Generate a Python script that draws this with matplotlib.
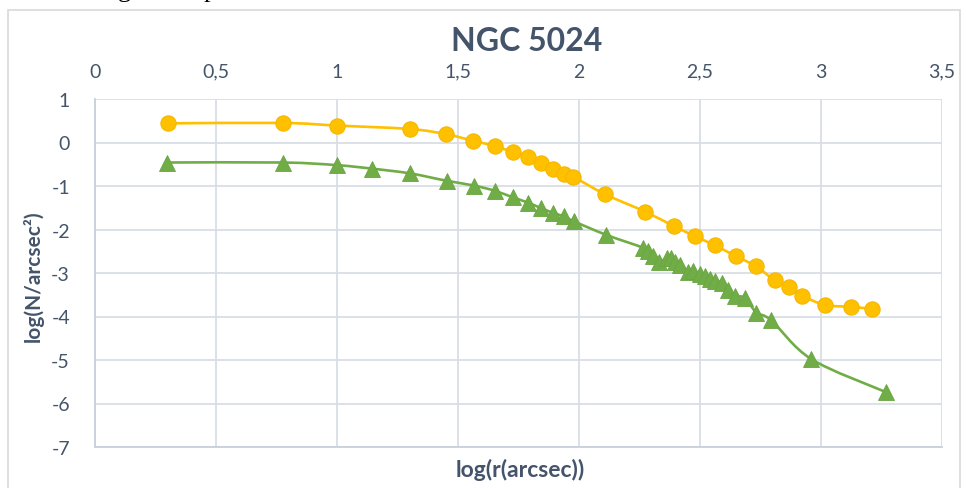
import numpy as np
from matplotlib import pyplot as plt
from matplotlib.path import Path
import matplotlib.patches as mpatches

# log(r) and log(N/arcsec^2)
x_yellow = [0.30, 0.775, 0.998, 1.302, 1.452, 1.562, 1.651, 1.726, 1.790, 1.844,
            1.891, 1.937, 1.976, 2.108, 2.273, 2.391, 2.481, 2.560, 2.647, 2.733,
            2.808, 2.868, 2.921, 3.015, 3.125, 3.211]
y_yellow = [0.44, 0.45, 0.39, 0.31, 0.19, 0.04, -0.08, -0.22, -0.34, -0.47,
            -0.61, -0.73, -0.79, -1.19, -1.59, -1.92, -2.16, -2.36, -2.61, -2.85,
            -3.17, -3.33, -3.52, -3.73, -3.78, -3.82]

x_green = [0.298, 0.776, 0.998, 1.143, 1.302, 1.453, 1.566, 1.652, 1.726, 1.788,
           1.844, 1.894, 1.937, 1.978, 2.111, 2.266, 2.287, 2.305, 2.330, 2.362,
           2.379, 2.397, 2.417, 2.449, 2.472, 2.500, 2.520, 2.541, 2.564, 2.589,
           2.614, 2.644, 2.685, 2.733, 2.795, 2.960, 3.269]
y_green = [-0.46, -0.46, -0.52, -0.60, -0.71, -0.88, -0.99, -1.11, -1.26, -1.38,
           -1.51, -1.62, -1.70, -1.81, -2.12, -2.42, -2.50, -2.60, -2.75, -2.66,
           -2.66, -2.74, -2.81, -2.97, -2.96, -3.03, -3.08, -3.13, -3.19, -3.22,
           -3.38, -3.53, -3.57, -3.91, -4.09, -4.98, -5.74]

x_ticks = [0, 0.5, 1, 1.5, 2, 2.5, 3, 3.5]
x_tick_labels = ['0', '0,5', '1', '1,5', '2', '2,5', '3', '3,5']
y_ticks = [1, 0, -1, -2, -3, -4, -5, -6, -7]

text_col = '#44546A'
grid_col = '#D9DEE5'
plt.rcParams['font.family'] = ['Lato', 'DejaVu Sans']
plt.rcParams['axes.unicode_minus'] = False


def smooth_path(xs, ys):
    # Excel style smoothed line: cubic Bezier through every point
    p = np.column_stack([xs, ys])
    q = np.vstack([p[:1], p, p[-1:]])
    verts = [p[0]]
    codes = [Path.MOVETO]
    for i in range(len(p) - 1):
        c1 = q[i + 1] + (q[i + 2] - q[i]) / 6
        c2 = q[i + 2] - (q[i + 3] - q[i + 1]) / 6
        verts += [c1, c2, p[i + 1]]
        codes += [Path.CURVE4] * 3
    return Path(verts, codes)


fig = plt.figure(figsize=(9.66, 4.89), dpi=100)
ax = fig.add_axes([95 / 966, 1 - 448 / 489, 847 / 966, 348 / 489])

# outer chart border
fig.patches.append(mpatches.Rectangle((8 / 966, -0.05), 952 / 966, 1.05 - 11 / 489,
                                      transform=fig.transFigure, fill=False,
                                      edgecolor='#D9D9D9', linewidth=1.2))

# bits of the document text above the chart, only the descenders show
fig.text(118 / 966, 1 + 3 / 489, 'g', family='Liberation Serif', fontsize=19,
         va='baseline', ha='left', color='black')
fig.text(204 / 966, 1 + 3 / 489, 'p', family='Liberation Serif', fontsize=19,
         va='baseline', ha='left', color='black')

ax.add_patch(mpatches.PathPatch(smooth_path(x_yellow, y_yellow), fill=False,
                                edgecolor='#FFC000', linewidth=1.9, zorder=3))
ax.plot(x_yellow, y_yellow, linestyle='none', marker='o', markersize=11,
        color='#FFC000', markeredgecolor='#F5B800', markeredgewidth=0.8, zorder=4)

ax.add_patch(mpatches.PathPatch(smooth_path(x_green, y_green), fill=False,
                                edgecolor='#70AD47', linewidth=1.9, zorder=3))
ax.plot(x_green, y_green, linestyle='none', marker='^', markersize=11,
        color='#70AD47', markeredgecolor='#6AA542', markeredgewidth=0.6, zorder=4)

ax.set_xlim(0, 3.5)
ax.set_ylim(-7, 1)
ax.xaxis.tick_top()
ax.set_xticks(x_ticks)
ax.set_xticklabels(x_tick_labels)
ax.set_yticks(y_ticks)
ax.tick_params(axis='both', length=0, labelsize=14, colors=text_col)
ax.tick_params(axis='x', pad=14)
ax.tick_params(axis='y', pad=18)
ax.grid(True, color=grid_col, linewidth=1.3)
ax.set_axisbelow(True)
for s in ['top', 'right']:
    ax.spines[s].set_visible(False)
for s in ['left', 'bottom']:
    ax.spines[s].set_color('#C9D0DA')
    ax.spines[s].set_linewidth(1.3)

fig.text(527 / 966, 1 - 42 / 489, 'NGC 5024', ha='center', va='center',
         fontsize=23, fontweight='bold', color=text_col)
fig.text(520 / 966, 1 - 470 / 489, 'log(r(arcsec))', ha='center', va='center',
         fontsize=16.5, fontweight='bold', color=text_col)
fig.text(33 / 966, 1 - 276 / 489, 'log(N/arcsec²)', ha='center', va='center',
         rotation=90, fontsize=15, fontweight='bold', color=text_col)

fig.savefig('out.png', dpi=100)
